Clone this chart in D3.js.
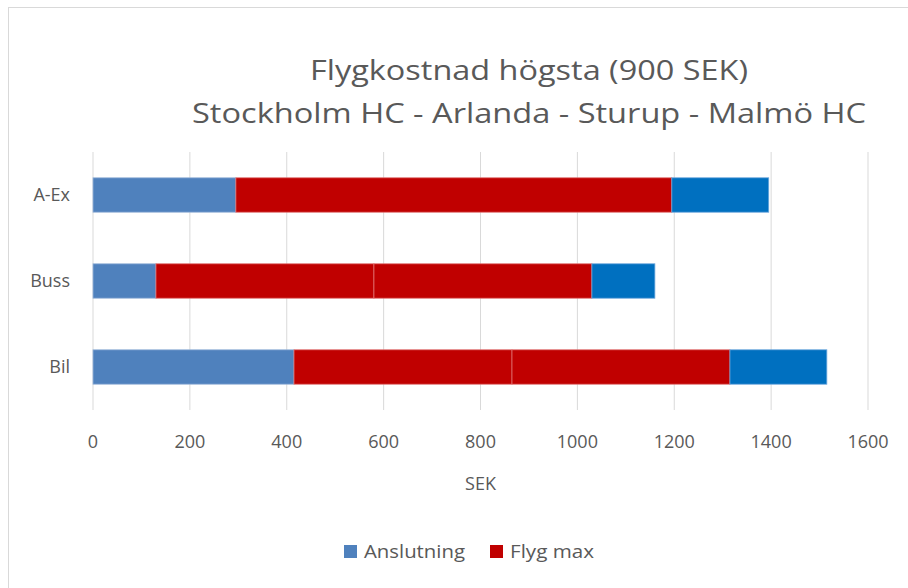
<!DOCTYPE html>
<html>
<head>
<meta charset="utf-8">
<script src="https://cdn.jsdelivr.net/npm/d3@7"></script>
<style>
  body { margin: 0; background: #fff; }
  svg text { font-family: "Open Sans", "Liberation Sans", sans-serif; fill: #595959; }
</style>
</head>
<body>
<div class="chart"></div>
<script>
// categories and stacked segments, in SEK
const categories = ["A-Ex", "Buss", "Bil"];
const anslutningFore = [295, 130, 415];
const flygMax1 = [900, 450, 450];
const flygMax2 = [0, 450, 450];
const anslutningEfter = [200, 130, 200];
const xTicks = [0, 200, 400, 600, 800, 1000, 1200, 1400, 1600];
const titleLines = ["Flygkostnad högsta (900 SEK)", "Stockholm HC - Arlanda - Sturup - Malmö HC"];

const width = 908, height = 588;
const margin = { left: 93, right: 40, top: 152, bottom: 178 };

const keys = ["a1", "f1", "f2", "a2"];
const fill = { a1: "#4f81bd", f1: "#c00000", f2: "#c00000", a2: "#0070c0" };
const edge = { a1: "#9bb6d9", f1: "#e07070", f2: "#e07070", a2: "#6aa6dc" };

const rows = categories.map((c, i) => ({
  cat: c, a1: anslutningFore[i], f1: flygMax1[i], f2: flygMax2[i], a2: anslutningEfter[i]
}));

const stack = d3.stack().keys(keys)(rows);

const svg = d3.select(".chart").append("svg")
  .attr("width", width).attr("height", height);

svg.append("rect")
  .attr("x", 8.5).attr("y", 7.5)
  .attr("width", width).attr("height", height)
  .attr("fill", "none").attr("stroke", "#d9d9d9");

const x = d3.scaleLinear().domain([0, 1600]).range([margin.left, width - margin.right]);
const y = d3.scaleBand().domain(categories)
  .range([margin.top, height - margin.bottom]).paddingInner(0.6).paddingOuter(0.3);

// gridlines
svg.append("g").selectAll("line").data(xTicks).join("line")
  .attr("x1", d => x(d)).attr("x2", d => x(d))
  .attr("y1", margin.top).attr("y2", height - margin.bottom)
  .attr("stroke", "#d9d9d9").attr("stroke-width", 1);

// bars
svg.append("g").selectAll("g").data(stack).join("g")
  .selectAll("rect").data(s => s.map(d => ({ d, key: s.key }))).join("rect")
  .filter(r => r.d[1] > r.d[0])
  .attr("x", r => x(r.d[0]))
  .attr("width", r => x(r.d[1]) - x(r.d[0]))
  .attr("y", r => y(r.d.data.cat))
  .attr("height", y.bandwidth())
  .attr("fill", r => fill[r.key])
  .attr("stroke", r => edge[r.key])
  .attr("stroke-width", 0.8);

// x tick labels
svg.append("g").selectAll("text").data(xTicks).join("text")
  .attr("x", d => x(d)).attr("y", 448)
  .attr("text-anchor", "middle")
  .attr("font-size", 18)
  .text(d => d);

svg.append("text")
  .attr("x", x(800)).attr("y", 490)
  .attr("text-anchor", "middle").attr("font-size", 18)
  .text("SEK");

// category labels
svg.append("g").selectAll("text").data(categories).join("text")
  .attr("x", 70).attr("y", d => y(d) + y.bandwidth() / 2)
  .attr("dy", "0.35em")
  .attr("text-anchor", "end").attr("font-size", 18)
  .text(d => d);

// title
svg.append("g").selectAll("text").data(titleLines).join("text")
  .attr("x", 529).attr("y", (d, i) => 80 + i * 43)
  .attr("text-anchor", "middle").attr("font-size", 28)
  .attr("textLength", (d, i) => i === 0 ? 438 : 674)
  .attr("lengthAdjust", "spacingAndGlyphs")
  .text(d => d);

// legend
const legend = [
  { label: "Anslutning", color: fill.a1, x: 344, w: 101 },
  { label: "Flyg max", color: fill.f1, x: 490, w: 84 }
];
const lg = svg.append("g").selectAll("g").data(legend).join("g")
  .attr("transform", d => `translate(${d.x},545)`);
lg.append("rect").attr("width", 13).attr("height", 13).attr("fill", d => d.color);
lg.append("text").attr("x", 20).attr("y", 13).attr("font-size", 18)
  .attr("textLength", d => d.w).attr("lengthAdjust", "spacingAndGlyphs")
  .text(d => d.label);
</script>
</body>
</html>
